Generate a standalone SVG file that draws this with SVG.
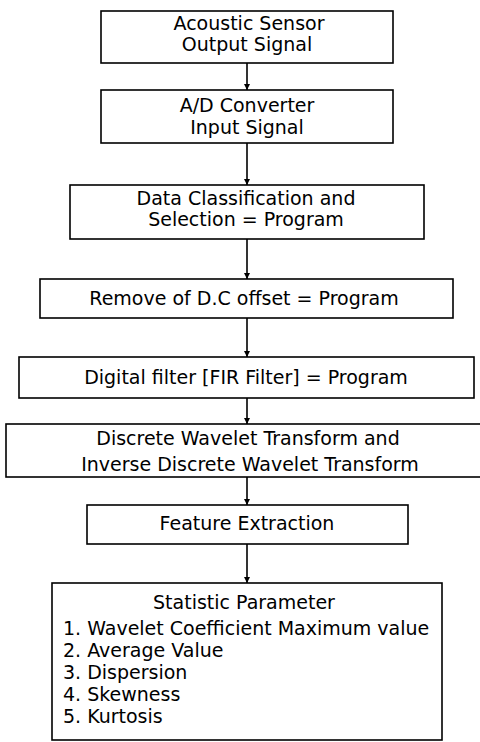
<svg xmlns="http://www.w3.org/2000/svg" width="480" height="742" viewBox="0 0 480 742">
<defs>
<style>
.box{fill:#fff;stroke:#000;stroke-width:1.6}
.t{font-family:"DejaVu Sans",sans-serif;font-size:19px;fill:#000;text-anchor:middle}
.l{font-family:"DejaVu Sans",sans-serif;font-size:19px;fill:#000}
.c{stroke:#000;stroke-width:1.6;fill:none}
</style>
<marker id="ah" viewBox="0 0 10 10" refX="10" refY="5" markerWidth="6" markerHeight="6" orient="auto" markerUnits="userSpaceOnUse">
<path d="M0,0 L10,5 L0,10 z" fill="#000"/>
</marker>
</defs>
<rect width="480" height="742" fill="#fff"/>
<g id="connectors">
<line class="c" x1="247" y1="63" x2="247" y2="90" marker-end="url(#ah)"/>
<line class="c" x1="247" y1="143" x2="247" y2="185" marker-end="url(#ah)"/>
<line class="c" x1="247" y1="239" x2="247" y2="279" marker-end="url(#ah)"/>
<line class="c" x1="247" y1="318" x2="247" y2="357" marker-end="url(#ah)"/>
<line class="c" x1="247" y1="398" x2="247" y2="424" marker-end="url(#ah)"/>
<line class="c" x1="247" y1="477" x2="247" y2="505" marker-end="url(#ah)"/>
<line class="c" x1="247" y1="544" x2="247" y2="583" marker-end="url(#ah)"/>
</g>
<g id="n1"><rect class="box" x="101" y="11" width="292" height="52"/>
<text class="t" x="249" y="30">Acoustic Sensor</text><text class="t" x="247" y="51">Output Signal</text></g>
<g id="n2"><rect class="box" x="101" y="90" width="292" height="53"/>
<text class="t" x="247" y="112">A/D Converter</text><text class="t" x="247" y="134">Input Signal</text></g>
<g id="n3"><rect class="box" x="70" y="185" width="354" height="54"/>
<text class="t" x="246" y="205">Data Classification and</text><text class="t" x="246" y="226">Selection = Program</text></g>
<g id="n4"><rect class="box" x="40" y="279" width="413" height="39"/>
<text class="t" x="244" y="305">Remove of D.C offset = Program</text></g>
<g id="n5"><rect class="box" x="19" y="357" width="455" height="41"/>
<text class="t" x="246" y="384">Digital filter [FIR Filter] = Program</text></g>
<g id="n6"><rect class="box" x="6" y="424" width="481" height="53"/>
<text class="t" x="248" y="445">Discrete Wavelet Transform and</text><text class="t" x="250" y="471">Inverse Discrete Wavelet Transform</text></g>
<g id="n7"><rect class="box" x="87" y="505" width="321" height="39"/>
<text class="t" x="247" y="530">Feature Extraction</text></g>
<g id="n8"><rect class="box" x="52" y="583" width="390" height="157"/>
<text class="t" x="244" y="609">Statistic Parameter</text>
<text class="l" x="63" y="635">1. Wavelet Coefficient Maximum value</text>
<text class="l" x="63" y="657">2. Average Value</text>
<text class="l" x="63" y="679">3. Dispersion</text>
<text class="l" x="63" y="701">4. Skewness</text>
<text class="l" x="63" y="723">5. Kurtosis</text></g>
</svg>
